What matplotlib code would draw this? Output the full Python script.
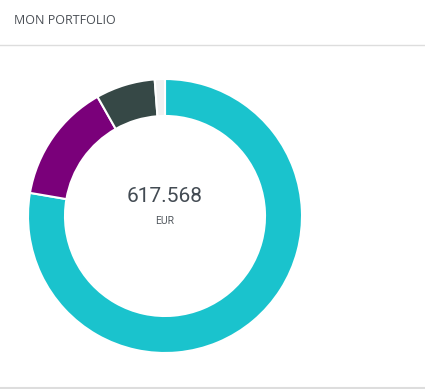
import matplotlib.pyplot as plt
from matplotlib.lines import Line2D

# portfolio split (share of total), clockwise from the top
labels = ["A", "B", "C", "D"]
shares = [77.7, 14.1, 7.0, 1.2]
colors = ["#1ac3cd", "#7a007a", "#364846", "#f1f1f1"]

total = "617.568"
currency = "EUR"
title = "MON PORTFOLIO"

fig = plt.figure(figsize=(4.25, 3.89), dpi=100)

# header text and separator lines
fig.text(14 / 425, 1 - 21 / 389, title, fontsize=9, color="#4a4f55",
         family="Open Sans", va="center", ha="left")
fig.add_artist(Line2D([0, 1], [1 - 44.5 / 389] * 2, color="#dddddd", lw=1))
fig.add_artist(Line2D([0, 1], [1 - 388 / 389] * 2, color="#dddddd", lw=1.5))

# donut
cx, cy, r = 165, 216, 137
ax = fig.add_axes([(cx - r) / 425, (389 - cy - r) / 389, 2 * r / 425, 2 * r / 389])
ax.pie(shares, colors=colors, startangle=90, counterclock=False,
       wedgeprops=dict(width=0.27, edgecolor="white", linewidth=1.5))
ax.set_xlim(-1, 1)
ax.set_ylim(-1, 1)
ax.axis("off")

ax.text(0, 0.14, total, ha="center", va="center", fontsize=15,
        color="#434b53", family="Roboto")
ax.text(0, -0.04, currency, ha="center", va="center", fontsize=7.5,
        color="#555b61", family="Roboto")

fig.savefig("out.png", dpi=100)
